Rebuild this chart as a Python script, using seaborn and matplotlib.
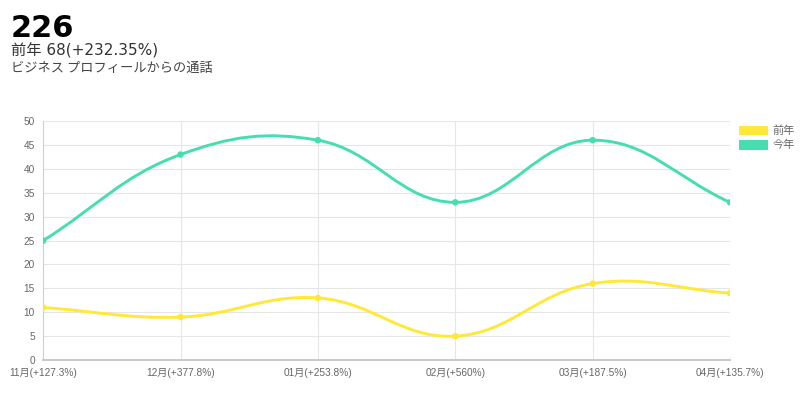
import numpy as np
import pandas as pd
import seaborn as sns
from matplotlib import pyplot as plt
from matplotlib.path import Path
from matplotlib.patches import PathPatch, Patch

# データ
months = ['11月(+127.3%)', '12月(+377.8%)', '01月(+253.8%)', '02月(+560%)', '03月(+187.5%)', '04月(+135.7%)']
last_year = [11, 9, 13, 5, 16, 14]
this_year = [25, 43, 46, 33, 46, 33]
series_names = ['前年', '今年']
colors = ['#FFE936', '#46DEB1']

total = 226
headline = '前年 68(+232.35%)'
subtitle = 'ビジネス プロフィールからの通話'

sns.set_style('white')
plt.rcParams['font.family'] = ['Liberation Sans', 'Noto Sans CJK JP', 'DejaVu Sans']

fig = plt.figure(figsize=(8, 3.97), dpi=100)
ax = fig.add_axes([0.054, 0.093, 0.8585, 0.602])

df = pd.DataFrame({
    'x': list(range(len(months))) * 2,
    'value': last_year + this_year,
    'series': [series_names[0]] * len(months) + [series_names[1]] * len(months),
})


# Chart.js風の曲線 (tension 0.4)
def spline_path(xs, ys, sx, sy, t=0.4):
    px = np.array(xs, float) * sx
    py = np.array(ys, float) * sy
    n = len(px)
    verts = [(xs[0], ys[0])]
    codes = [Path.MOVETO]
    ctrl = []
    for i in range(n):
        p0 = i - 1 if i > 0 else i
        p2 = i + 1 if i < n - 1 else i
        d01 = np.hypot(px[i] - px[p0], py[i] - py[p0])
        d12 = np.hypot(px[p2] - px[i], py[p2] - py[i])
        tot = d01 + d12 if d01 + d12 > 0 else 1
        fa = t * d01 / tot
        fb = t * d12 / tot
        dx = px[p2] - px[p0]
        dy = py[p2] - py[p0]
        prev_c = ((px[i] - fa * dx) / sx, (py[i] - fa * dy) / sy)
        next_c = ((px[i] + fb * dx) / sx, (py[i] + fb * dy) / sy)
        ctrl.append((prev_c, next_c))
    for i in range(1, n):
        verts += [ctrl[i - 1][1], ctrl[i][0], (xs[i], ys[i])]
        codes += [Path.CURVE4] * 3
    return Path(verts, codes)


for name, color in zip(series_names, colors):
    sub = df[df['series'] == name]
    path = spline_path(sub['x'].tolist(), sub['value'].tolist(), 137.4, 4.78)
    ax.add_patch(PathPatch(path, facecolor='none', edgecolor=color, lw=2.1, zorder=3))

sns.scatterplot(data=df, x='x', y='value', hue='series', palette=colors, s=22,
                edgecolor='none', legend=False, ax=ax, zorder=4)

ax.set_xlim(0, len(months) - 1)
ax.set_ylim(0, 50)
ax.set_xticks(range(len(months)))
ax.set_xticklabels(months)
ax.set_yticks(range(0, 51, 5))
ax.set_xlabel('')
ax.set_ylabel('')
ax.grid(True, color='#e6e6e6', lw=0.8)
ax.tick_params(axis='both', labelsize=7.3, colors='#666666', length=4, width=0.6)
ax.tick_params(axis='x', pad=2)
ax.tick_params(axis='y', pad=2)
for s in ['top', 'right']:
    ax.spines[s].set_visible(False)
ax.spines['left'].set_color('#d0d0d0')
ax.spines['left'].set_linewidth(0.8)
ax.spines['bottom'].set_color('#c8c8c8')
ax.spines['bottom'].set_linewidth(1.4)

handles = [Patch(facecolor=c, edgecolor='none') for c in colors]
leg = fig.legend(handles, series_names, loc='upper left', bbox_to_anchor=(0.918, 0.695),
                 frameon=False, fontsize=8, handlelength=2.6, handleheight=1.0,
                 handletextpad=0.4, labelspacing=0.3, borderaxespad=0)
for txt in leg.get_texts():
    txt.set_color('#666666')

fig.text(0.013, 0.928, str(total), fontsize=22, fontweight='bold', color='black',
         family=['DejaVu Sans', 'Noto Sans CJK JP'], va='center')
fig.text(0.014, 0.873, headline, fontsize=11, color='#333333',
         family=['DejaVu Sans', 'Noto Sans CJK JP'], va='center')
fig.text(0.014, 0.828, subtitle, fontsize=9.5, color='#444444',
         family=['Noto Sans CJK JP', 'DejaVu Sans'], va='center')

fig.savefig('out.png', dpi=100)
